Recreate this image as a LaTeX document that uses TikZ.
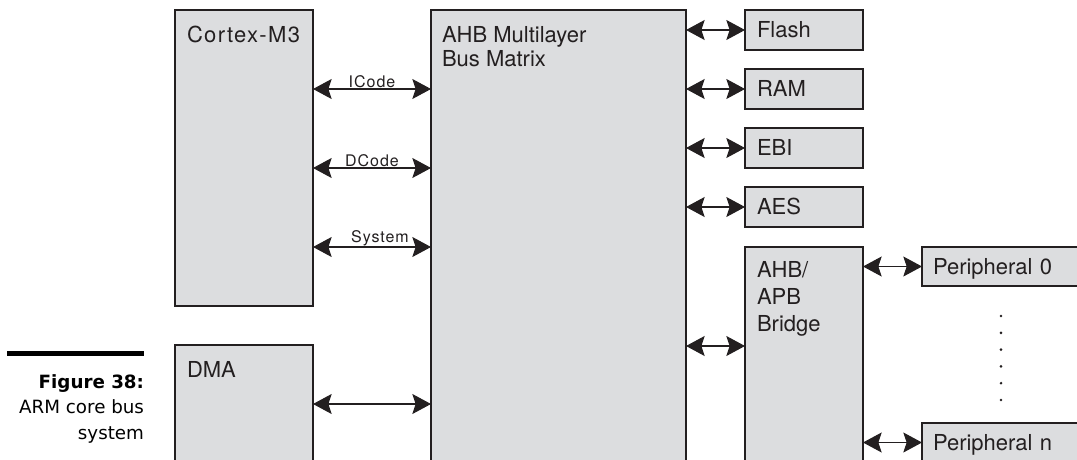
\documentclass[tikz,border=0pt]{standalone}
\usepackage{fontspec}
\setmainfont{TeX Gyre Heros}
\newfontfamily\capfont{DejaVu Sans}
\newfontfamily\widefont[LetterSpace=6]{TeX Gyre Heros}
\usetikzlibrary{calc, positioning, arrows.meta}
\definecolor{boxgray}{RGB}{220,221,223}
\definecolor{ink}{RGB}{35,31,32}

\begin{document}
\begin{tikzpicture}[x=0.75pt, y=-0.75pt,
    every node/.style={inner sep=0pt, outer sep=0pt, text=ink},
    blk/.style={draw=ink, line width=0.9pt, fill=boxgray, anchor=north west},
    bigblk/.style={blk, minimum width=103.5pt},
    lbl/.style={font=\fontsize{16.5}{18}\selectfont},
    smallblk/.style={blk, lbl, minimum width=88.5pt, minimum height=30pt,
        inner xsep=9pt, text width=70.5pt, align=left, text height=11.9pt, text depth=0pt},
    periblk/.style={smallblk, minimum width=133.5pt, minimum height=29.25pt,
        inner xsep=8.25pt, text width=117pt},
    buslbl/.style={font=\widefont\fontsize{12}{14}\selectfont},
    link/.style={draw=ink, line width=0.8pt,
        {Stealth[length=14pt,width=15pt,inset=2.5pt]}-{Stealth[length=14pt,width=15pt,inset=2.5pt]}}]

    \useasboundingbox (0,0) rectangle (1077,460);
    \clip (0,0) rectangle (1077,460);

    % Bloecke links und Mitte
    \node[bigblk, minimum height=222pt] (cpu) at (175,10) {};
    \node[bigblk, minimum height=101.25pt] (dma) at (175,345) {};
    \node[blk, minimum width=191.25pt, minimum height=352.5pt] (matrix) at (431,10) {};

    % Slaves rechts (Abstand 59px)
    \foreach \name/\txt [count=\k from 0] in {flash/Flash, ram/RAM, ebi/EBI, aes/AES} {
        \node[smallblk] (\name) at (745,10+\k*59) {\txt};
    }

    % Bridge und Peripherie
    \node[blk, minimum width=88.5pt, minimum height=174.75pt] (bridge) at (745,247) {};
    \node[periblk] (per0) at (922,247) {Peripheral 0};
    \node[periblk] (pern) at (922,423) {Peripheral n};

    % Beschriftung der grossen Bloecke (base = letzte Zeile)
    \node[lbl, anchor=base west, font=\widefont\fontsize{16.5}{18}\selectfont]
        (cpulbl) at ($(cpu.north west)+(12,33)$) {Cortex-M3};
    \node[lbl, anchor=base west] (dmalbl) at ($(dma.north west)+(12,32)$) {DMA};
    \node[lbl, anchor=base west, align=left, font=\fontsize{16.5}{18}\selectfont]
        (matrixlbl) at ($(matrix.north west)+(11,57)$) {AHB Multilayer\\Bus Matrix};
    \node[lbl, anchor=base west, align=left, font=\fontsize{16.5}{20}\selectfont]
        (bridgelbl) at ($(bridge.north west)+(12,84)$) {AHB/\\APB\\Bridge};

    % Busse Cortex-M3 -> Matrix
    \draw[link] (cpu.east |- 0,89) -- node[buslbl, above=1pt] {ICode} (matrix.west |- 0,89);
    \draw[link] (cpu.east |- 0,168) -- node[buslbl, above=1pt] {DCode} (matrix.west |- 0,168);
    \draw[link] (cpu.east |- 0,247) -- node[buslbl, above=1pt, xshift=6] {System} (matrix.west |- 0,247);
    \draw[link] (dma.east |- 0,404) -- (matrix.west |- 0,404);

    % Matrix -> Slaves
    \foreach \name in {flash, ram, ebi, aes} {
        \draw[link] (matrix.east |- \name.west) -- (\name.west);
    }
    \draw[link] (matrix.east |- 0,346) -- (bridge.west |- 0,346);
    \draw[link] (bridge.east |- per0.west) -- (per0.west);
    \draw[link] (bridge.east |- pern.west) -- (pern.west);

    % Punkte zwischen den Peripherien
    \foreach \k in {0,...,5} {
        \fill[ink] (1001,316+\k*16.8) circle (1.1pt);
    }

    % Bildunterschrift
    \fill[black] (7,351) rectangle (144,356);
    \node[anchor=base east, text=black, font=\capfont\bfseries\fontsize{13.7}{18.75}\selectfont]
        (figno) at (144,388) {Figure 38:};
    \node[anchor=base east, align=right, text=black, font=\capfont\fontsize{13.7}{19.5}\selectfont]
        (figcap) at (144,439) {ARM core bus\\system};

\end{tikzpicture}
\end{document}
